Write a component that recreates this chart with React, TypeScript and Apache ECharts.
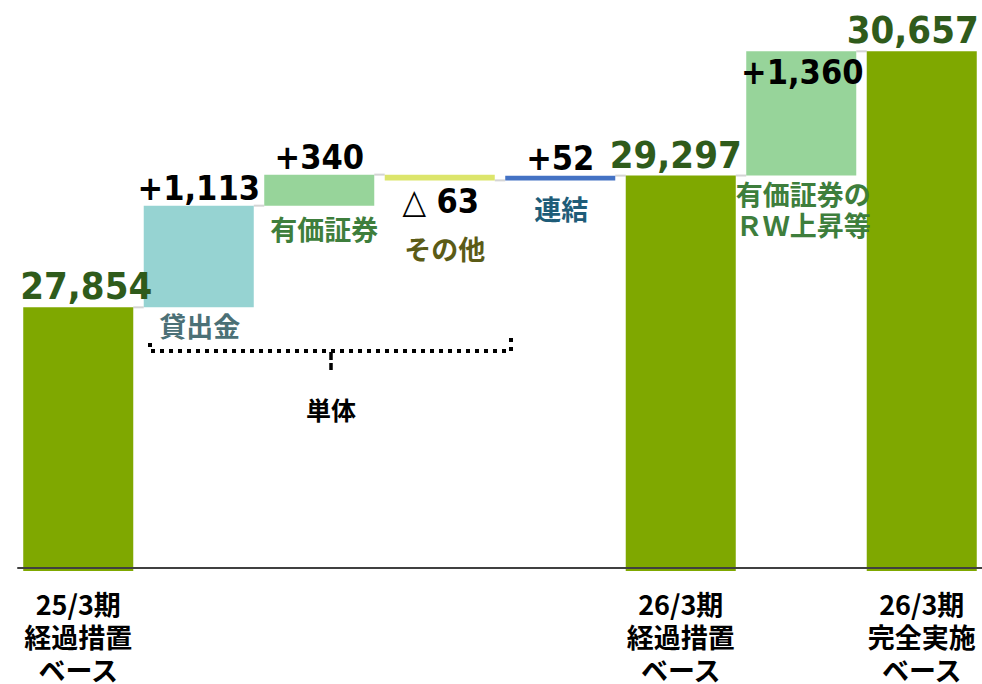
import React, { useEffect, useRef } from "react";
import * as echarts from "echarts";

// ---- data ----
const categories = [
  "25/3期\n経過措置\nベース",
  "",
  "",
  "",
  "",
  "26/3期\n経過措置\nベース",
  "",
  "26/3期\n完全実施\nベース",
];
const stepKinds = ["total", "delta", "delta", "delta", "delta", "total", "delta", "total"];
const stepValues = [27854, 1113, 340, -63, 52, 29297, 1360, 30657];
const stepNames = ["", "貸出金", "有価証券", "その他", "連結", "", "有価証券の\nＲＷ上昇等", ""];
const axisMin = 25000;
const axisMax = 31000;
const bracketLabel = "単体";

// ---- styles ----
const barColors = ["#7FA800", "#96D3D2", "#97D49A", "#DCE56B", "#4472C4", "#7FA800", "#97D49A", "#7FA800"];
const nameColors = ["", "#4B7076", "#3E7E3C", "#5B5B16", "#1E5C78", "", "#3E7E3C", ""];
const valuePlacement = ["above", "above", "above", "below", "above", "above", "inside", "above"];
const valueDx = [8, 0, 0, 1, 0, -5, 1, -9];
const nameDy = [0, 18, 23, 68, 28, 0, 18, 0];
const nameDx = [0, 1, 5, 5, 1, 0, 2, 0];

const NUM_FONT = '"DejaVu Sans Condensed", "DejaVu Sans", sans-serif';
const JP_FONT = '"Noto Sans CJK JP", sans-serif';

function buildSteps() {
  const lows: number[] = [];
  const highs: number[] = [];
  const ends: number[] = [];
  let running = 0;
  stepValues.forEach((v, i) => {
    if (stepKinds[i] === "total") {
      lows.push(axisMin);
      highs.push(v);
      running = v;
    } else {
      lows.push(running);
      highs.push(running + v);
      running = running + v;
    }
    ends.push(running);
  });
  return { lows, highs, ends };
}

function valueText(i: number) {
  const v = stepValues[i];
  if (stepKinds[i] === "total") return v.toLocaleString("en-US");
  if (v >= 0) return "+" + v.toLocaleString("en-US");
  return "△ " + Math.abs(v).toLocaleString("en-US");
}

export default function App() {
  const ref = useRef<HTMLDivElement>(null);
  useEffect(() => {
    if (!ref.current) return;
    const chart = echarts.init(ref.current, undefined, { renderer: "svg" });
    const { lows, highs, ends } = buildSteps();
    const data = stepValues.map((_, i) => [i, lows[i], highs[i]]);
    const n = stepValues.length;

    const option: any = {
      animation: false,
      grid: {
        left: 18,
        right: 0,
        top: 20,
        bottom: 116,
        containLabel: false,
        outerBoundsMode: "none",
      },
      xAxis: {
        type: "category",
        data: categories,
        z: 10,
        axisLine: { lineStyle: { color: "#404040", width: 2 } },
        axisTick: { show: false },
        axisLabel: {
          interval: 0,
          fontSize: 27,
          fontWeight: "bold",
          color: "#000",
          lineHeight: 33,
          margin: 19,
          fontFamily: JP_FONT,
        },
      },
      yAxis: {
        type: "value",
        min: axisMin,
        max: axisMax,
        show: false,
        splitLine: { show: false },
      },
      series: [
        {
          type: "custom",
          data,
          encode: { x: 0, y: [1, 2] },
          renderItem: (params: any, api: any) => {
            const i = api.value(0);
            const lo = api.value(1);
            const hi = api.value(2);
            const top = api.coord([i, Math.max(lo, hi)]);
            const bot = api.coord([i, Math.min(lo, hi)]);
            const band = api.size([1, 0])[0];
            const w = band * 0.913;
            const cx = top[0];
            const isTotal = stepKinds[i] === "total";
            const yBottom = bot[1] + (isTotal ? 3 : 0);
            const children: any[] = [];
            // connector
            if (i < n - 1) {
              const p = api.coord([i, ends[i]]);
              const q = api.coord([i + 1, ends[i]]);
              children.push({
                type: "line",
                shape: { x1: p[0] + w / 2, y1: p[1], x2: q[0] - w / 2, y2: p[1] },
                style: { stroke: "#D4D4D4", lineWidth: 2 },
              });
            }
            children.push({
              type: "rect",
              shape: { x: cx - w / 2, y: top[1], width: w, height: Math.max(1, yBottom - top[1]) },
              style: { fill: barColors[i] },
            });
            // value label
            const place = valuePlacement[i];
            let ly = top[1] - (isTotal ? 21 : 18);
            if (place === "below") ly = bot[1] + 21;
            if (place === "inside") ly = top[1] + 21;
            children.push({
              type: "text",
              x: cx + valueDx[i],
              y: ly,
              z2: 10,
              style: {
                text: valueText(i),
                fill: isTotal ? "#2F5B1B" : "#000000",
                font: `bold ${isTotal ? 38 : 34}px ${NUM_FONT}`,
                lineHeight: isTotal ? 34 : 30,
                align: "center",
                verticalAlign: "middle",
              },
            });
            // name label
            if (stepNames[i]) {
              const lh = 31;
              children.push({
                type: "text",
                x: cx + nameDx[i],
                y: bot[1] + nameDy[i] - lh / 2,
                z2: 10,
                style: {
                  text: stepNames[i],
                  fill: nameColors[i],
                  font: `bold 27px ${JP_FONT}`,
                  lineHeight: lh,
                  align: "center",
                  verticalAlign: "top",
                },
              });
            }
            return { type: "group", children };
          },
        },
      ],
      graphic: [
        {
          type: "polyline",
          shape: { points: [[150, 343], [150, 351], [511, 351], [511, 336]] },
          style: { stroke: "#000", lineWidth: 4, lineDash: [4, 5], fill: null },
        },
        {
          type: "line",
          shape: { x1: 331, y1: 352, x2: 331, y2: 370 },
          style: { stroke: "#000", lineWidth: 3.5, lineDash: [8, 3] },
        },
        {
          type: "text",
          x: 331,
          y: 409,
          style: {
            text: bracketLabel,
            font: `bold 25px ${JP_FONT}`,
            fill: "#000",
            align: "center",
            verticalAlign: "middle",
          },
        },
      ],
    };
    chart.setOption(option);
    return () => chart.dispose();
  }, []);
  return (
    <div
      ref={ref}
      style={{ position: "fixed", left: 0, top: 0, width: 982, height: 684, background: "#fff" }}
    />
  );
}
